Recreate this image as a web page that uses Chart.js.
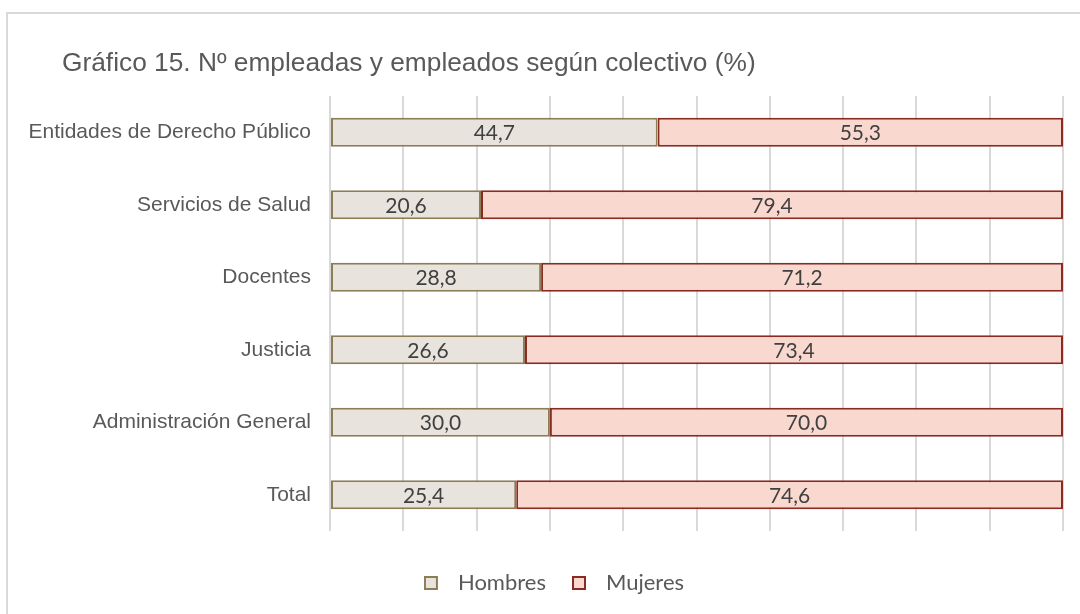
<!DOCTYPE html>
<html>
<head>
<meta charset="utf-8">
<script src="https://cdn.jsdelivr.net/npm/chart.js@4"></script>
<style>
  body { margin: 0; background: #fff; }
  canvas { display: block; }
</style>
</head>
<body>
<canvas id="grafico" width="1080" height="614"></canvas>
<script>
// datos del gráfico 15
const titulo = "Gráfico 15. Nº empleadas y empleados según colectivo (%)";
const colectivos = ["Entidades de Derecho Público", "Servicios de Salud", "Docentes", "Justicia", "Administración General", "Total"];
const hombres = [44.7, 20.6, 28.8, 26.6, 30.0, 25.4];
const mujeres = [55.3, 79.4, 71.2, 73.4, 70.0, 74.6];
const ticksX = [0, 10, 20, 30, 40, 50, 60, 70, 80, 90, 100];

const colores = {
  hombres: { fondo: '#e8e4dd', borde: '#8c7d57' },
  mujeres: { fondo: '#f9d9cf', borde: '#8b2a20' }
};

// cuadradito de la leyenda (el hueco a la derecha separa el texto)
function cajaLeyenda(fondo, borde) {
  const c = document.createElement('canvas');
  c.width = 23; c.height = 14;
  const x = c.getContext('2d');
  x.fillStyle = fondo;
  x.fillRect(1, 1, 12, 12);
  x.strokeStyle = borde;
  x.lineWidth = 2;
  x.strokeRect(1, 1, 12, 12);
  return c;
}
const cajas = [cajaLeyenda(colores.hombres.fondo, colores.hombres.borde), cajaLeyenda(colores.mujeres.fondo, colores.mujeres.borde)];

const fmt = v => v.toFixed(1).replace('.', ',');

const fondoYMarco = {
  id: 'fondoYMarco',
  afterLayout(chart) {
    // la leyenda va centrada algo más a la derecha, como en el original
    chart.legend.left = 45;
  },
  beforeDraw(chart) {
    const ctx = chart.ctx;
    ctx.save();
    ctx.fillStyle = '#fff';
    ctx.fillRect(0, 0, chart.width, chart.height);
    ctx.strokeStyle = '#d9d9d9';
    ctx.lineWidth = 2;
    ctx.beginPath();
    ctx.moveTo(7, chart.height + 2);
    ctx.lineTo(7, 13);
    ctx.lineTo(chart.width + 2, 13);
    ctx.stroke();
    ctx.fillStyle = '#595959';
    ctx.font = '26.3px "Liberation Sans", Arial, sans-serif';
    ctx.textBaseline = 'alphabetic';
    ctx.fillText(titulo, 62, 71);
    ctx.restore();
  }
};

const etiquetas = {
  id: 'etiquetas',
  afterDatasetsDraw(chart) {
    const ctx = chart.ctx;
    ctx.save();
    ctx.font = '21px Lato, sans-serif';
    ctx.fillStyle = '#404040';
    ctx.textAlign = 'center';
    ctx.textBaseline = 'middle';
    chart.data.datasets.forEach((ds, i) => {
      chart.getDatasetMeta(i).data.forEach((bar, j) => {
        const p = bar.getProps(['x', 'y', 'base'], true);
        ctx.fillText(fmt(ds.data[j]), (p.x + p.base) / 2, p.y + 1);
      });
    });
    ctx.restore();
  }
};

new Chart(document.getElementById('grafico'), {
  type: 'bar',
  data: {
    labels: colectivos,
    datasets: [
      { label: 'Hombres', data: hombres, backgroundColor: colores.hombres.fondo, borderColor: colores.hombres.borde, borderWidth: 2, borderSkipped: false },
      { label: 'Mujeres', data: mujeres, backgroundColor: colores.mujeres.fondo, borderColor: colores.mujeres.borde, borderWidth: 2, borderSkipped: false }
    ]
  },
  options: {
    indexAxis: 'y',
    responsive: false,
    animation: false,
    categoryPercentage: 1,
    barPercentage: 0.4,
    layout: { padding: { left: 0, right: 17, top: 96, bottom: 10 } },
    scales: {
      x: {
        stacked: true, min: 0, max: 100,
        afterBuildTicks(s) { s.ticks = ticksX.map(v => ({ value: v })); },
        afterFit(s) { s.height = 15; },
        ticks: { display: false },
        grid: { color: '#d9d9d9', lineWidth: 2, drawTicks: false },
        border: { display: false }
      },
      y: {
        stacked: true,
        afterFit(s) { s.width = 330; },
        grid: { display: false, drawTicks: false },
        border: { display: false },
        ticks: { padding: 19, color: '#595959', font: { family: '"Liberation Sans", Arial, sans-serif', size: 21 } }
      }
    },
    plugins: {
      title: { display: false },
      tooltip: { enabled: false },
      legend: {
        position: 'bottom',
        labels: {
          usePointStyle: true,
          pointStyleWidth: 23,
          padding: 26,
          color: '#595959',
          font: { family: 'Lato, sans-serif', size: 22 },
          generateLabels(chart) {
            const items = Chart.defaults.plugins.legend.labels.generateLabels(chart);
            items.forEach((it, i) => { it.pointStyle = cajas[i]; });
            return items;
          }
        }
      }
    }
  },
  plugins: [fondoYMarco, etiquetas]
});
</script>
</body>
</html>
